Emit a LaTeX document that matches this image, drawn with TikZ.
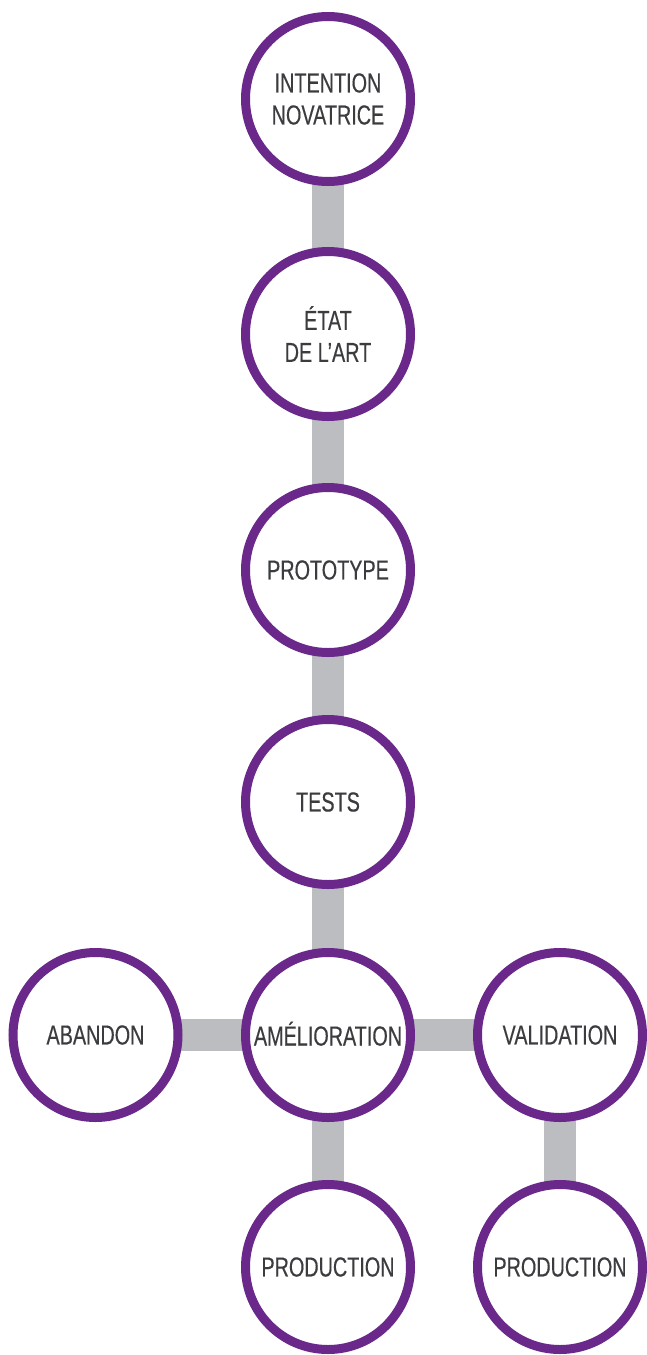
\documentclass[tikz,border=0pt]{standalone}
\usepackage{fontspec}
\newfontfamily\condfont{Liberation Sans}[FakeStretch=0.72,FakeBold=0.35]
\definecolor{ringpurple}{HTML}{6A298A}
\definecolor{linkgray}{HTML}{BCBDC0}
\definecolor{labelgray}{HTML}{3A3C3F}
\begin{document}
\begin{tikzpicture}[x=1pt,y=-1pt,
  stage/.style={circle, draw=ringpurple, line width=9pt, fill=white,
    minimum size=165pt, inner sep=0pt, align=center, text=labelgray,
    font=\condfont\fontsize{27.5}{32}\selectfont},
  link/.style={draw=linkgray, line width=32pt}]
\useasboundingbox (0,0) rectangle (647,1355);
% stage positions
\coordinate (pi) at (328,99);
\coordinate (pe) at (328,334);
\coordinate (pp) at (328,570);
\coordinate (pt) at (328,802);
\coordinate (pa) at (328,1035);
\coordinate (pb) at (95.5,1035);
\coordinate (pv) at (560,1035);
\coordinate (pl) at (328,1267);
\coordinate (pr) at (560,1267);
% connecting bars behind the circles
\draw[link] (pi) -- (pe);
\draw[link] (pe) -- (pp);
\draw[link] (pp) -- (pt);
\draw[link] (pt) -- (pa);
\draw[link] (pb) -- (pa);
\draw[link] (pa) -- (pv);
\draw[link] (pa) -- (pl);
\draw[link] (pv) -- (pr);
% stages
\node[stage] (intention) at (pi) {INTENTION\\NOVATRICE};
\node[stage] (etat) at (pe) {ÉTAT\\DE L’ART};
\node[stage] (proto) at (pp) {PROTOTYPE};
\node[stage] (tests) at (pt) {TESTS};
% the accent is left out of the box height so the capitals sit centred
\node[stage] (amelio) at (pa) {\raisebox{0pt}[21pt][0pt]{AMÉLIORATION}};
\node[stage] (abandon) at (pb) {ABANDON};
\node[stage] (valid) at (pv) {VALIDATION};
\node[stage] (prodl) at (pl) {PRODUCTION};
\node[stage] (prodr) at (pr) {PRODUCTION};
\end{tikzpicture}
\end{document}
